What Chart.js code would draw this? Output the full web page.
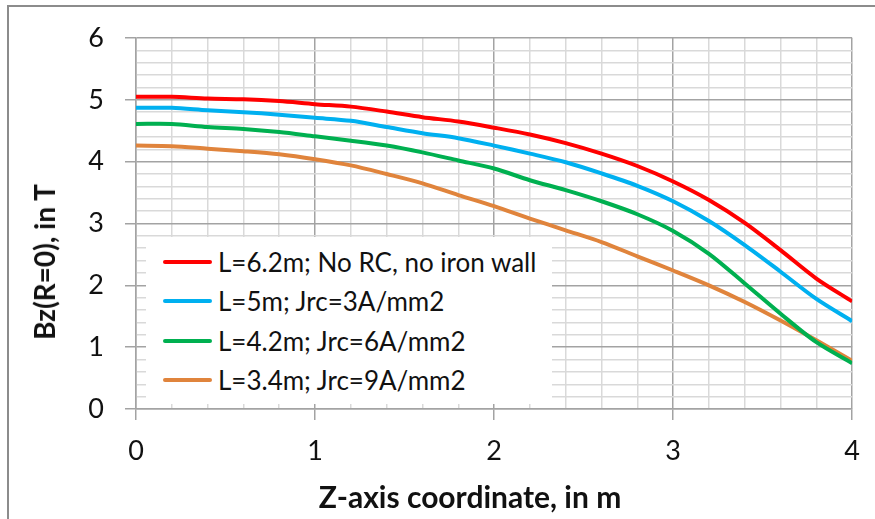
<!DOCTYPE html>
<html>
<head>
<meta charset="utf-8">
<script src="https://cdn.jsdelivr.net/npm/chart.js@4/dist/chart.umd.min.js"></script>
<style>
  html, body { margin: 0; padding: 0; background: #fff; overflow: hidden; }
  #wrap { position: relative; width: 875px; height: 519px; }
  #frame {
    position: absolute; left: 7px; top: 5px; width: 1000px; height: 700px;
    border: 2px solid #8c8c8c;
  }
  canvas { position: absolute; left: 0; top: 0; }
  #legend {
    position: absolute; left: 146px; top: 237px; width: 406px; height: 167px;
    background: #fff; font-family: Lato, "Open Sans", sans-serif; font-size: 26px; color: #111;
  }
  #legend .row { position: absolute; left: 17px; height: 32px; display: flex; align-items: center; }
  #legend .sw { width: 49px; height: 4px; margin-right: 6px; border-radius: 2px; }
  .title {
    position: absolute; font-family: Lato, "Open Sans", sans-serif; font-weight: bold;
    color: #111; white-space: nowrap; transform-origin: center;
  }
  #ytitle { left: 44px; top: 262px; font-size: 28px; transform: translate(-50%, -50%) rotate(-90deg); }
  #xtitle { left: 470px; top: 496px; font-size: 30px; transform: translate(-50%, -50%); }
</style>
</head>
<body>
<div id="wrap">
  <div id="frame"></div>
  <canvas id="chart" width="875" height="519"></canvas>
  <div id="legend"></div>
  <div class="title" id="ytitle">Bz(R=0), in T</div>
  <div class="title" id="xtitle">Z-axis coordinate, in m</div>
</div>
<script>
const zValues = [0, 0.2, 0.4, 0.6, 0.8, 1.0, 1.2, 1.4, 1.6, 1.8, 2.0,
                 2.2, 2.4, 2.6, 2.8, 3.0, 3.2, 3.4, 3.6, 3.8, 4.0];

const bzNoRC = [5.05, 5.05, 5.02, 5.01, 4.98, 4.93, 4.89, 4.81, 4.72, 4.65, 4.55,
                4.44, 4.30, 4.13, 3.93, 3.68, 3.38, 3.01, 2.57, 2.11, 1.74];
const bzJrc3 = [4.87, 4.87, 4.83, 4.80, 4.76, 4.71, 4.66, 4.56, 4.46, 4.38, 4.26,
                4.13, 3.99, 3.81, 3.61, 3.36, 3.04, 2.65, 2.22, 1.78, 1.42];
const bzJrc6 = [4.61, 4.61, 4.56, 4.53, 4.48, 4.41, 4.34, 4.26, 4.15, 4.02, 3.89,
                3.70, 3.54, 3.36, 3.15, 2.88, 2.51, 2.03, 1.54, 1.08, 0.74];
const bzJrc9 = [4.26, 4.25, 4.21, 4.17, 4.12, 4.04, 3.94, 3.80, 3.65, 3.46, 3.28,
                3.08, 2.89, 2.70, 2.47, 2.24, 2.00, 1.73, 1.43, 1.11, 0.78];

const seriesNames = [
  "L=6.2m; No RC, no iron wall",
  "L=5m; Jrc=3A/mm2",
  "L=4.2m; Jrc=6A/mm2",
  "L=3.4m; Jrc=9A/mm2",
];
const seriesColors = ["#ff0000", "#00b0f0", "#00b050", "#e0843c"];

const xTickLabels = ["0", "1", "2", "3", "4"];
const yTickLabels = ["0", "1", "2", "3", "4", "5", "6"];

function toPoints(values) {
  return zValues.map((z, i) => ({ x: z, y: values[i] }));
}

function isMajor(v) {
  return Math.abs(v - Math.round(v)) < 1e-6;
}

const tickFont = { family: "Lato, 'Open Sans', sans-serif", size: 27 };

const allSeries = [bzNoRC, bzJrc3, bzJrc6, bzJrc9];

const chart = new Chart(document.getElementById("chart"), {
  type: "line",
  data: {
    datasets: allSeries.map((vals, i) => ({
      label: seriesNames[i],
      data: toPoints(vals),
      borderColor: seriesColors[i],
      backgroundColor: seriesColors[i],
      borderWidth: 4,
      pointRadius: 0,
      tension: 0.3,
      fill: false,
    })),
  },
  options: {
    responsive: false,
    animation: false,
    layout: { padding: { top: 38, right: 22, bottom: 0, left: 0 } },
    plugins: {
      legend: { display: false },
      tooltip: { enabled: false },
    },
    scales: {
      x: {
        type: "linear",
        min: 0,
        max: 4,
        afterFit: (scale) => { scale.height = 110; },
        ticks: {
          stepSize: 0.2,
          autoSkip: false,
          maxRotation: 0,
          padding: 15,
          color: "#111",
          font: tickFont,
          callback: (v) => {
            const label = xTickLabels[Math.round(v)];
            return isMajor(v) && label !== undefined ? label : "";
          },
        },
        grid: {
          color: (ctx) => (isMajor(ctx.tick.value) ? "#a3a3a3" : "#d9d9d9"),
          lineWidth: 1.5,
          tickLength: 11,
          tickColor: (ctx) => (isMajor(ctx.tick.value) ? "#a3a3a3" : "rgba(0,0,0,0)"),
        },
        border: { color: "#a3a3a3", width: 1.5 },
      },
      y: {
        min: 0,
        max: 6,
        afterFit: (scale) => { scale.width = 136; },
        ticks: {
          stepSize: 0.2,
          autoSkip: false,
          padding: 21,
          color: "#111",
          font: tickFont,
          callback: (v) => {
            const label = yTickLabels[Math.round(v)];
            return isMajor(v) && label !== undefined ? label : "";
          },
        },
        grid: {
          color: (ctx) => (isMajor(ctx.tick.value) ? "#a3a3a3" : "#d9d9d9"),
          lineWidth: 1.5,
          tickLength: 11,
          tickColor: (ctx) => (isMajor(ctx.tick.value) ? "#a3a3a3" : "rgba(0,0,0,0)"),
        },
        border: { color: "#a3a3a3", width: 1.5 },
      },
    },
  },
});

// html legend inside the plot, built from the datasets
const legendEl = document.getElementById("legend");
const rowCenters = [25, 64, 104, 143];
chart.data.datasets.forEach((ds, i) => {
  const row = document.createElement("div");
  row.className = "row";
  row.style.top = rowCenters[i] - 16 + "px";
  const sw = document.createElement("span");
  sw.className = "sw";
  sw.style.background = ds.borderColor;
  const txt = document.createElement("span");
  txt.textContent = ds.label;
  row.appendChild(sw);
  row.appendChild(txt);
  legendEl.appendChild(row);
});
</script>
</body>
</html>
